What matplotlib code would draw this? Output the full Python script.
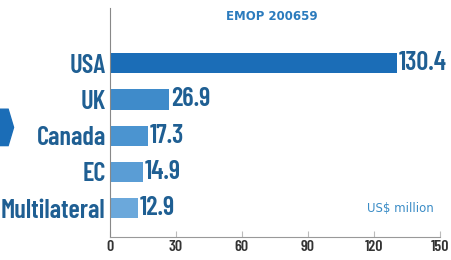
import matplotlib
matplotlib.use("Agg")
import matplotlib.pyplot as plt
from matplotlib.patches import Polygon

donors = ["USA", "UK", "Canada", "EC", "Multilateral"]
amounts = [130.4, 26.9, 17.3, 14.9, 12.9]
bar_colors = ["#1b6db7", "#3f8bca", "#4b94d0", "#5a9dd5", "#6ba8db"]
xticks = [0, 30, 60, 90, 120, 150]

LABEL_BLUE = "#1f5f93"
COND = ["Barlow Condensed", "DejaVu Sans"]

fig = plt.figure(figsize=(4.52, 2.6), dpi=100)
ax = fig.add_axes([0.243, 0.088, 0.73, 0.882])

ypos = list(range(len(donors)))
ax.barh(ypos, amounts, height=0.56, color=bar_colors)
for y, v in zip(ypos, amounts):
    ax.text(v + 0.8, y, f"{v}", va="center", ha="left", fontsize=19,
            color=LABEL_BLUE, family=COND, fontweight="semibold")

ax.set_xlim(0, 150)
ax.set_ylim(4.8, -1.53)
ax.set_yticks(ypos)
ax.set_yticklabels(donors, fontsize=19, color=LABEL_BLUE, family=COND, fontweight="semibold")
ax.tick_params(axis="y", length=0, pad=3)
ax.set_xticks(xticks)
ax.set_xticklabels([str(t) for t in xticks], fontsize=11.5, color="#333333",
                   family=COND, fontweight="semibold")
ax.tick_params(axis="x", direction="in", length=4, color="#bbbbbb", pad=2)

for s in ["top", "right"]:
    ax.spines[s].set_visible(False)
ax.spines["left"].set_color("#888888")
ax.spines["bottom"].set_color("#999999")

ax.text(0.49, 0.96, "EMOP 200659", transform=ax.transAxes, ha="center", va="center",
        fontsize=8.5, fontweight="bold", color="#2b7bbd")
ax.text(0.88, 0.125, "US$ million", transform=ax.transAxes, ha="center", va="center",
        fontsize=8.5, color="#3a8cc6")

arrow = Polygon([[0.0, 0.58], [0.018, 0.58], [0.03, 0.51], [0.018, 0.44], [0.0, 0.44]],
                closed=True, transform=fig.transFigure, color="#1b6db7")
fig.patches.append(arrow)

fig.savefig("out.png", dpi=100)
